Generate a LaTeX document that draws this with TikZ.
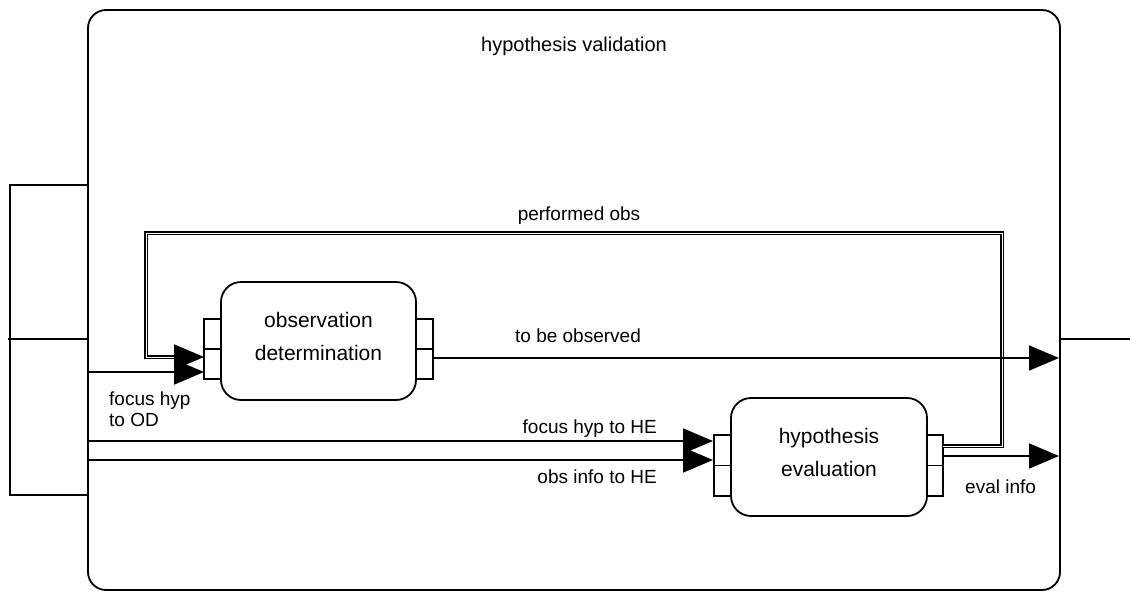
\documentclass[tikz,border=0pt]{standalone}
\usepackage{fontspec}
\setmainfont{Liberation Sans}
\usetikzlibrary{arrows.meta}
\begin{document}
\begin{tikzpicture}[x=1pt,y=-1pt,
  frame/.style={draw, line width=1.8pt, inner sep=0pt},
  box/.style={draw, line width=1.8pt, rounded corners=20pt, minimum width=195pt, minimum height=118pt,
    font=\fontsize{21}{33}\selectfont, align=center, inner sep=0pt},
  port/.style={draw, line width=1.6pt, minimum width=17pt, minimum height=60pt, inner sep=0pt},
  lbl/.style={font=\fontsize{19}{21}\selectfont, inner sep=0pt},
  ttl/.style={font=\fontsize{20}{24}\selectfont, inner sep=0pt},
  wire/.style={line width=1.8pt},
  flow/.style={line width=1.8pt, -{Triangle[length=30pt,width=25pt]}},
  dbl/.style={double, line width=1.7pt, double distance=0.9pt}
]
\useasboundingbox (0,0) rectangle (1130,592);

% outer process
\node[frame, rounded corners=18pt, minimum width=972pt, minimum height=580pt] (hv) at (574,300) {};
\node[ttl, anchor=base] (hvt) at (574,51) {hypothesis validation};

% left port block of the outer process
\node[frame, minimum width=78pt, minimum height=310pt] (hvL) at (49,340) {};
\coordinate (hvLd1) at (8,339);
\coordinate (hvLd2) at (88,339);
\draw[wire] (hvLd1) -- (hvLd2);
% right port line
\coordinate (hvRd1) at (1060,339);
\coordinate (hvRd2) at (1130,339);
\draw[wire] (hvRd1) -- (hvRd2);

% inner processes
\node[port] (oddL) at (212.5,349) {};
\node[port] (oddR) at (424.5,349) {};
\draw[wire] (oddL.west) -- (oddL.east);
\draw[wire] (oddR.west) -- (oddR.east);
\node[box] (odd) at (318.5,341) {observation\\determination\rule[-10pt]{0pt}{10pt}};

\node[port, minimum height=61pt] (heL) at (722.5,465.5) {};
\node[port, minimum height=61pt, minimum width=16pt] (heR) at (935,465.5) {};
\draw[wire] (heL.west) -- (heL.east);
\draw[wire] (heR.west) -- (heR.east);
\node[box, minimum width=196pt] (he) at (829,457) {hypothesis\\evaluation\rule[-10pt]{0pt}{10pt}};

% connection points
\coordinate (hvLa) at (88,372);
\coordinate (hvLb) at (88,441);
\coordinate (hvLc) at (88,460);
\coordinate (oddLa) at (204,357);
\coordinate (oddLb) at (204,372);
\coordinate (oddRa) at (433,358);
\coordinate (heLa) at (713,441);
\coordinate (heLb) at (713,460);
\coordinate (heRa) at (943,446);
\coordinate (heRb) at (943,456);
\coordinate (hvRa) at (1059,358);
\coordinate (hvRb) at (1059,456);
\coordinate (po1) at (1002,233);
\coordinate (po2) at (146,357);
\coordinate (po3) at (180,357);
\coordinate (po4) at (174,357);

% connectors
\draw[dbl] (heRa) -| (po1) -| (po2) -- (po3);
\draw[flow] (po4) -- (oddLa);
\draw[flow] (hvLa) -- (oddLb);
\draw[flow] (oddRa) -- (hvRa);
\draw[flow] (hvLb) -- (heLa);
\draw[flow] (hvLc) -- (heLb);
\draw[flow] (heRb) -- (hvRb);

% labels
\node[lbl, anchor=base] (lpo) at (579,220) {performed obs};
\node[lbl, anchor=base] (ltbo) at (578,342) {to be observed};
\node[lbl, anchor=west, align=left] (lfod) at (109,409) {focus hyp\\to OD};
\node[lbl, anchor=base east] (lfhe) at (657,433) {focus hyp to HE};
\node[lbl, anchor=base east] (loi) at (657,483) {obs info to HE};
\node[lbl, anchor=base west] (lei) at (965,493) {eval info};
\end{tikzpicture}
\end{document}
